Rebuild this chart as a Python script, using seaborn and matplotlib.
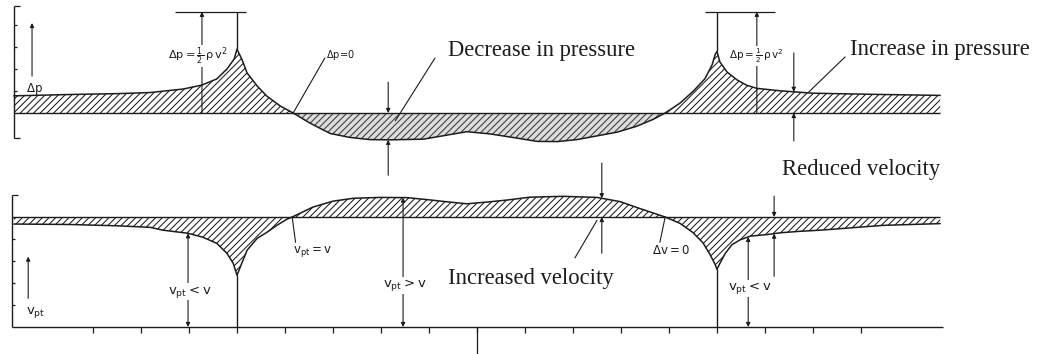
import numpy as np
import pandas as pd
import matplotlib
matplotlib.use("Agg")
import matplotlib.pyplot as plt
import seaborn as sns

# Station along the flow; the body sits between the stagnation points at -5 and +5
dp_x = [-9.65, -8.5, -7.5, -6.81, -6.12, -5.73, -5.42, -5.21, -5.06, -5.0,
        -4.9, -4.79, -4.58, -4.38, -4.1, -3.83, -3.48, -3.06, -2.65, -2.23,
        -1.81, -1.12, -0.56, -0.21, 0.27, 0.83, 1.25, 1.67, 2.08, 2.5,
        2.92, 3.33, 3.67, 3.92, 4.23, 4.5, 4.75, 4.9, 4.96, 5.0,
        5.06, 5.21, 5.42, 5.62, 5.83, 6.31, 7.0, 8.2, 9.65]
# Pressure change against the undisturbed flow
dp_val = [0.78, 0.84, 0.88, 0.93, 1.09, 1.27, 1.55, 2.0, 2.45, 2.9,
          2.45, 1.82, 1.23, 0.77, 0.32, 0.0, -0.46, -0.93, -1.11, -1.21,
          -1.22, -1.19, -0.98, -0.85, -0.95, -1.14, -1.29, -1.30, -1.21, -1.04,
          -0.87, -0.60, -0.29, 0.0, 0.45, 0.98, 1.56, 2.2, 2.65, 2.8,
          2.32, 1.86, 1.5, 1.26, 1.12, 1.01, 0.9, 0.85, 0.8]

v_x = [-9.65, -8.5, -7.5, -6.81, -6.54, -6.02, -5.71, -5.42, -5.21, -5.08,
       -5.0, -4.9, -4.79, -4.58, -4.38, -4.17, -3.96, -3.85, -3.42, -3.0,
       -2.58, -2.02, -1.46, -1.04, -0.62, -0.21, 0.21, 0.62, 1.1, 1.79,
       2.5, 2.98, 3.4, 3.92, 4.23, 4.5, 4.71, 4.85, 4.96, 5.0,
       5.06, 5.17, 5.31, 5.48, 5.69, 6.04, 6.31, 6.73, 7.15, 8.46, 9.65]
# Local velocity v_pt
v_val = [4.68, 4.66, 4.6, 4.53, 4.40, 4.26, 4.08, 3.80, 3.35, 2.90,
         2.35, 2.90, 3.49, 4.03, 4.30, 4.62, 4.90, 5.0, 5.45, 5.72,
         5.85, 5.89, 5.88, 5.79, 5.69, 5.60, 5.68, 5.77, 5.90, 5.94,
         5.89, 5.70, 5.38, 5.0, 4.71, 4.29, 3.82, 3.31, 2.85, 2.62,
         2.89, 3.34, 3.74, 3.96, 4.13, 4.20, 4.28, 4.35, 4.40, 4.62, 4.70]

body_ends = [-5.0, 5.0]
v_inf = 5.0            # undisturbed velocity v
dp_stag = 4.6          # stagnation rise 1/2 rho v^2
station_ticks = list(range(-8, 9))
dp_ticks = [1, 2, 3, 4]
v_ticks = [1, 2, 3, 4]
x_start, x_end = -9.65, 9.65

sns.set_theme(style="white")
plt.rcParams["font.family"] = ["DejaVu Sans"]
plt.rcParams["mathtext.fontset"] = "dejavusans"
plt.rcParams["hatch.linewidth"] = 0.75

INK = "#1c1c1c"
SERIF = ["Liberation Serif", "DejaVu Serif"]
BIG = 16.3

fig = plt.figure(figsize=(10.38, 3.54), dpi=100)
ax_p = fig.add_axes([0, 0.5, 1, 0.5])
ax_v = fig.add_axes([0, 0, 1, 0.5])
for ax in (ax_p, ax_v):
    ax.set_xlim(-9.9375, 11.6875)
    ax.set_axis_off()
ax_p.set_ylim(-64 / 22, 113 / 22)
ax_v.set_ylim(-27 / 22, 150 / 22)

pres = pd.DataFrame({"x": dp_x, "dp": dp_val})
vel = pd.DataFrame({"x": v_x, "v": v_val})


def arrow(ax, x, y_from, y_to, style="-|>"):
    ax.annotate("", xy=(x, y_to), xytext=(x, y_from),
                arrowprops=dict(arrowstyle=style, lw=0.8, color=INK,
                                mutation_scale=6, shrinkA=0, shrinkB=0),
                annotation_clip=False)


def leader(ax, p0, p1):
    ax.plot([p0[0], p1[0]], [p0[1], p1[1]], color=INK, lw=0.8, clip_on=False)


def small(ax, x, y, s, size=7.5, box=False, ha="center"):
    kw = {}
    if box:
        kw["bbox"] = dict(facecolor="white", edgecolor="none", pad=0.4)
    ax.text(x, y, s, fontsize=size, color=INK, ha=ha, va="center", zorder=4, **kw)


# ---------------- pressure distribution ----------------
xp = pres["x"].to_numpy()
yp = pres["dp"].to_numpy()
ax_p.fill_between(xp, 0, yp, where=yp >= 0, interpolate=True,
                  facecolor="white", edgecolor=INK, hatch="/////", linewidth=0)
ax_p.fill_between(xp, 0, yp, where=yp <= 0, interpolate=True,
                  facecolor="#dcdcdc", edgecolor="#3a3a3a", hatch="/////", linewidth=0)
sns.lineplot(data=pres, x="x", y="dp", ax=ax_p, color=INK, lw=1.1,
             estimator=None, sort=False)
ax_p.hlines(0, x_start, x_end, color=INK, lw=1.0)
peak_p = np.interp(body_ends, xp, yp)
ax_p.vlines(body_ends, peak_p, dp_stag, color=INK, lw=1.0, zorder=5)

# left scale
ax_p.vlines(x_start, -1.14, 4.86, color=INK, lw=1.0)
ax_p.hlines(dp_ticks, x_start, x_start + 0.07, color=INK, lw=0.9)
ax_p.hlines([-1.14, 4.86], x_start, x_start + 0.12, color=INK, lw=0.9)
arrow(ax_p, -9.27, 1.68, 4.09)
small(ax_p, -9.22, 1.1, r"$\mathregular{\Delta p}$", 8.5)

# stagnation pressure marks
ax_p.hlines(dp_stag, -6.29, -4.81, color=INK, lw=0.9)
ax_p.hlines(dp_stag, 4.75, 6.21, color=INK, lw=0.9)
arrow(ax_p, -5.73, 0, dp_stag)
arrow(ax_p, 5.83, 0, dp_stag)
small(ax_p, -5.82, 2.59, r"$\mathregular{\Delta p=\frac{1}{2}\,\rho\,v^2}$", 8.2, box=True)
small(ax_p, 5.81, 2.6, r"$\mathregular{\Delta p=\frac{1}{2}\,\rho\,v^2}$", 7.5, box=True)

# zero crossing
leader(ax_p, (-3.83, 0), (-3.17, 2.5))
small(ax_p, -3.15, 2.62, r"$\mathregular{\Delta p\!=\!0}$", 7, ha="left")

# decrease in pressure
ax_p.text(1.35, 2.86, "Decrease in pressure", family=SERIF, fontsize=BIG,
          color=INK, ha="center", va="center")
leader(ax_p, (-0.875, 2.5), (-1.7, -0.35))
arrow(ax_p, -1.85, 1.4, 0)
arrow(ax_p, -1.85, -2.83, float(np.interp(-1.85, xp, yp)))

# increase in pressure
ax_p.text(9.65, 2.89, "Increase in pressure", family=SERIF, fontsize=BIG,
          color=INK, ha="center", va="center")
leader(ax_p, (7.67, 2.55), (6.9, 0.93))
arrow(ax_p, 6.6, 2.73, float(np.interp(6.6, xp, yp)))
arrow(ax_p, 6.6, -1.27, 0)

# ---------------- velocity distribution ----------------
xv = vel["x"].to_numpy()
yv = vel["v"].to_numpy()
ax_v.fill_between(xv, v_inf, yv, facecolor="white", edgecolor=INK,
                  hatch="/////", linewidth=0)
sns.lineplot(data=vel, x="x", y="v", ax=ax_v, color=INK, lw=1.1,
             estimator=None, sort=False)
ax_v.hlines(v_inf, -9.69, x_end, color=INK, lw=1.0)
dip_v = np.interp(body_ends, xv, yv)
ax_v.vlines(body_ends, 0, dip_v, color=INK, lw=1.0)

# axes of the velocity panel
ax_v.hlines(0, -9.69, 9.7, color=INK, lw=1.0)
ax_v.vlines(station_ticks, -0.27, 0, color=INK, lw=0.9)
ax_v.vlines(0, -27 / 22, 0, color=INK, lw=0.9)
ax_v.vlines(-9.69, 0, 6.0, color=INK, lw=1.0)
ax_v.hlines(v_ticks, -9.69, -9.62, color=INK, lw=0.9)
ax_v.hlines(6.0, -9.69, -9.57, color=INK, lw=0.9)
arrow(ax_v, -9.35, 1.3, 3.2)
small(ax_v, -9.2, 0.68, r"$\mathregular{v_{pt}}$", 9.5)

# v_pt = v at the crossings
leader(ax_v, (-3.85, v_inf), (-3.78, 3.85))
small(ax_v, -3.42, 3.45, r"$\mathregular{v_{pt}=v}$", 8.5)
leader(ax_v, (3.92, v_inf), (3.81, 3.85))
small(ax_v, 4.04, 3.5, r"$\mathregular{\Delta v=0}$", 8.5)

# local velocity against free stream
for xa, ya, lab in [(-6.02, 1.6, r"$\mathregular{v_{pt}<v}$"),
                    (-1.54, 1.9, r"$\mathregular{v_{pt}>v}$"),
                    (5.65, 1.77, r"$\mathregular{v_{pt}<v}$")]:
    arrow(ax_v, xa, 0, float(np.interp(xa, xv, yv)), style="<|-|>")
    small(ax_v, xa + 0.04, ya, lab, 9.5, box=True)

# increased velocity
ax_v.text(1.13, 2.2, "Increased velocity", family=SERIF, fontsize=BIG,
          color=INK, ha="center", va="center")
leader(ax_v, (2.04, 3.14), (2.5, 4.85))
arrow(ax_v, 2.6, 7.45, float(np.interp(2.6, xv, yv)))
arrow(ax_v, 2.6, 3.35, v_inf)

# reduced velocity
ax_v.text(8.0, 7.17, "Reduced velocity", family=SERIF, fontsize=BIG,
          color=INK, ha="center", va="center")
arrow(ax_v, 6.19, 5.95, v_inf)
arrow(ax_v, 6.19, 2.3, float(np.interp(6.19, xv, yv)))

fig.savefig("out.png", dpi=100, facecolor="white")
